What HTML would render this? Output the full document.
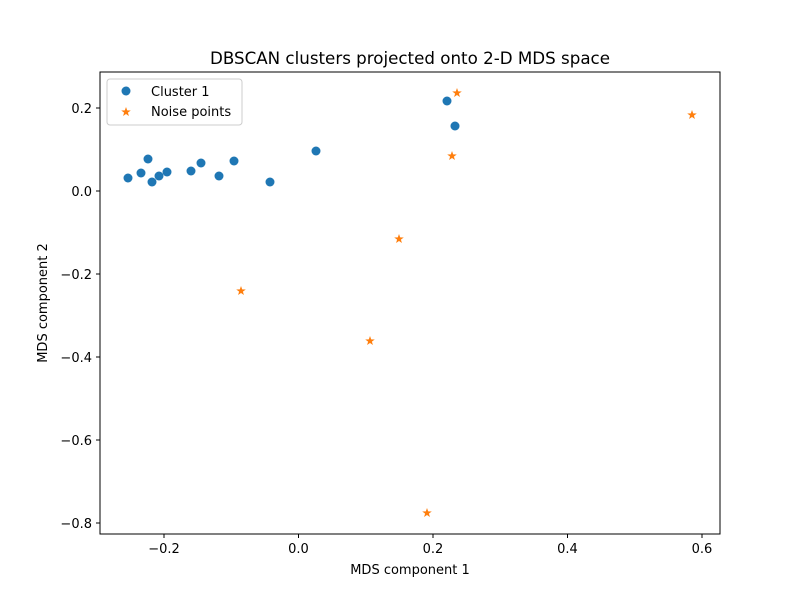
<!DOCTYPE html>
<html><head><meta charset="utf-8"><style>
body{margin:0;background:#fff}
text{font-family:"DejaVu Sans","Liberation Sans",sans-serif;fill:#000}
</style></head><body>
<svg width="800" height="600" xmlns="http://www.w3.org/2000/svg">
<defs>
<polygon id="st" points="0,-5 1.18,-1.62 4.76,-1.55 1.9,0.62 2.94,4.05 0,2 -2.94,4.05 -1.9,0.62 -4.76,-1.55 -1.18,-1.62" fill="#ff7f0e"/>
</defs>
<rect x="100" y="72" width="620" height="462" fill="none" stroke="#000" stroke-width="1"/>
<g stroke="#000">
<line x1="164" y1="534" x2="164" y2="538"/><line x1="298.5" y1="534" x2="298.5" y2="538"/><line x1="433" y1="534" x2="433" y2="538"/><line x1="567.5" y1="534" x2="567.5" y2="538"/><line x1="702" y1="534" x2="702" y2="538"/>
<line x1="96" y1="108" x2="100" y2="108"/><line x1="96" y1="191" x2="100" y2="191"/><line x1="96" y1="274" x2="100" y2="274"/><line x1="96" y1="357" x2="100" y2="357"/><line x1="96" y1="440" x2="100" y2="440"/><line x1="96" y1="523" x2="100" y2="523"/>
</g>
<g font-size="13" text-anchor="middle">
<text x="164" y="553">−0.2</text><text x="298.5" y="553">0.0</text><text x="433" y="553">0.2</text><text x="567.5" y="553">0.4</text><text x="702" y="553">0.6</text>
</g>
<g font-size="13" text-anchor="end">
<text x="92" y="113">0.2</text><text x="92" y="196">0.0</text><text x="92" y="279">−0.2</text><text x="92" y="362">−0.4</text><text x="92" y="445">−0.6</text><text x="92" y="528">−0.8</text>
</g>
<text x="410" y="574" font-size="13" text-anchor="middle">MDS component 1</text>
<text x="47" y="303" font-size="13" text-anchor="middle" transform="rotate(-90 47 303)">MDS component 2</text>
<text x="410" y="64" font-size="16.7" text-anchor="middle">DBSCAN clusters projected onto 2-D MDS space</text>
<g fill="#1f77b4">
<circle cx="128" cy="178" r="4.5"/><circle cx="141" cy="173" r="4.5"/><circle cx="148" cy="159" r="4.5"/><circle cx="152" cy="182" r="4.5"/><circle cx="159" cy="176" r="4.5"/><circle cx="167" cy="172" r="4.5"/><circle cx="191" cy="171" r="4.5"/><circle cx="201" cy="163" r="4.5"/><circle cx="219" cy="176" r="4.5"/><circle cx="234" cy="161" r="4.5"/><circle cx="270" cy="182" r="4.5"/><circle cx="316" cy="151" r="4.5"/><circle cx="447" cy="101" r="4.5"/><circle cx="455" cy="126" r="4.5"/>
</g>
<use href="#st" x="457" y="93"/><use href="#st" x="692" y="115"/><use href="#st" x="452" y="156"/><use href="#st" x="399" y="239"/><use href="#st" x="241" y="291"/><use href="#st" x="370" y="341"/><use href="#st" x="427" y="513"/>
<rect x="107" y="79" width="135" height="46" rx="3" fill="#fff" fill-opacity="0.8" stroke="#ccc"/>
<circle cx="126" cy="91" r="4.5" fill="#1f77b4"/>
<text x="151" y="96" font-size="13">Cluster 1</text>
<use href="#st" x="126" y="112"/>
<text x="151" y="116" font-size="13">Noise points</text>
</svg>
</body></html>
